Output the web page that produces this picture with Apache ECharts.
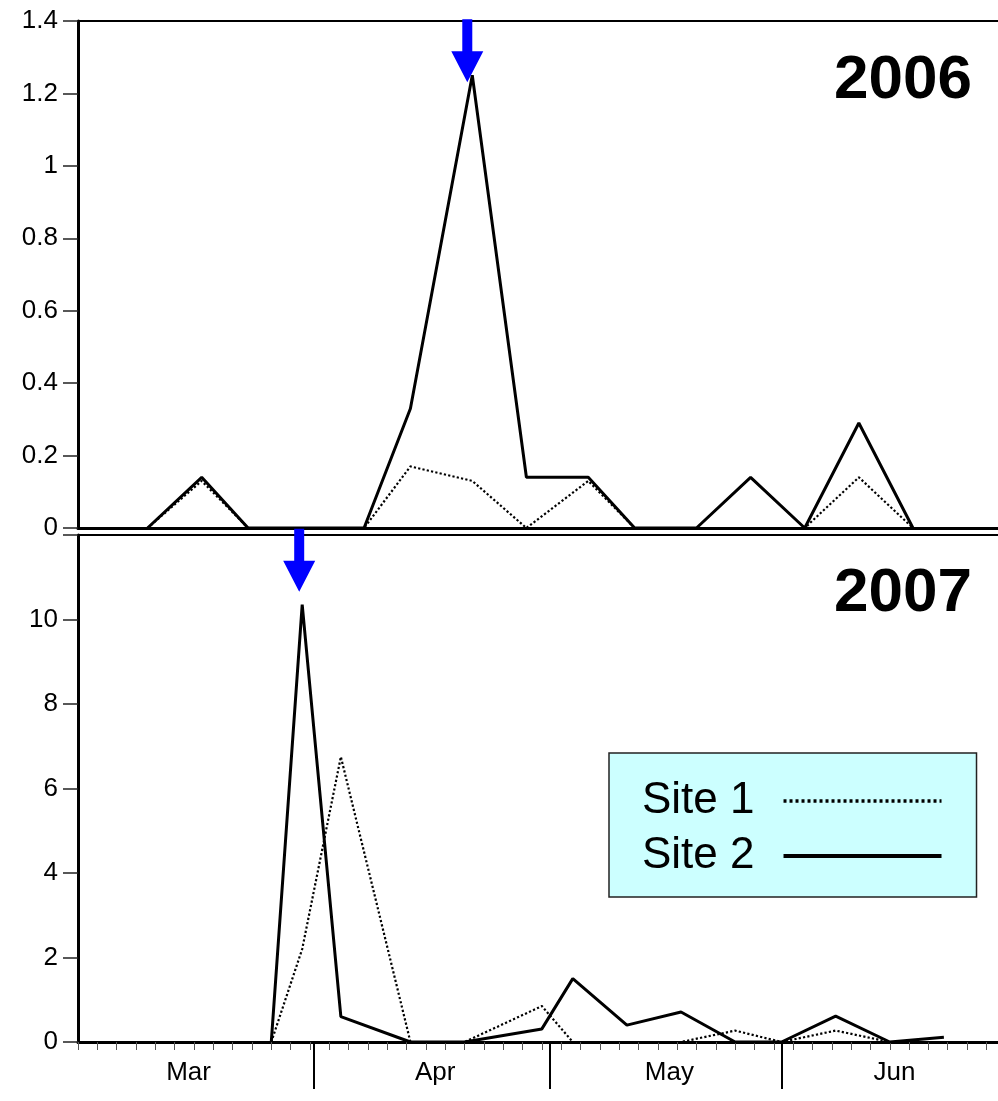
<!DOCTYPE html>
<html>
<head>
<meta charset="utf-8">
<script src="https://cdn.jsdelivr.net/npm/echarts@6/dist/echarts.min.js"></script>
<style>
  html, body { margin: 0; padding: 0; background: #ffffff; }
  #chart { width: 998px; height: 1101px; }
</style>
</head>
<body>
<div id="chart"></div>
<script>
// Sampling days, counted from the start of March
const days2006 = [9, 16, 22, 37, 43, 51, 58, 66, 72, 80, 87, 94, 101, 108];
const site1_2006 = [0, 0.13, 0, 0, 0.17, 0.13, 0, 0.13, 0, 0, 0, 0, 0.14, 0];
const site2_2006 = [0, 0.14, 0, 0, 0.33, 1.25, 0.14, 0.14, 0, 0, 0.14, 0, 0.29, 0];

const days2007 = [25, 29, 34, 43, 50, 60, 64, 71, 78, 85, 91, 98, 105, 112];
const site1_2007 = [0, 2.2, 6.75, 0, 0, 0.85, 0, 0, 0, 0.27, 0, 0.27, 0, 0];
const site2_2007 = [0, 10.35, 0.6, 0, 0, 0.31, 1.5, 0.4, 0.71, 0, 0, 0.61, 0, 0.11];

// Axis ticks
const yTicks2006 = [0, 0.2, 0.4, 0.6, 0.8, 1, 1.2, 1.4];
const yTicks2007 = [0, 2, 4, 6, 8, 10, 12];
const monthNames = ['Mar', 'Apr', 'May', 'Jun'];
const monthLabelDays = [14.3, 46.2, 76.5, 105.6];
const monthBoundaryDays = [30.5, 61, 91];
const dayTickStep = 2.5;
const dayMax = 119;

const FONT = "'Liberation Sans', Arial, Helvetica, sans-serif";
const ARROW = 'path://M11,0L21,0L21,32L32,32L16,63L0,32L11,32Z';
const CLEAR = 'rgba(0,0,0,0)';

const pairs = (xs, ys) => xs.map((x, i) => [x, ys[i]]);
const peakOf = (xs, ys) => {
  const i = ys.indexOf(Math.max(...ys));
  return [xs[i], ys[i]];
};
const arrowMark = (coord, offset) => ({
  symbol: ARROW,
  symbolSize: [32, 63],
  symbolKeepAspect: false,
  label: { show: false },
  itemStyle: { color: '#0000ff' },
  silent: true,
  data: [{ coord: coord, symbolOffset: offset }]
});

const chart = echarts.init(document.getElementById('chart'), null, { renderer: 'canvas' });

const yAxisBase = (grid, ticks, hideLast) => ({
  type: 'value',
  gridIndex: grid,
  min: ticks[0],
  max: ticks[ticks.length - 1],
  interval: ticks[1] - ticks[0],
  axisLine: { show: true, lineStyle: { color: '#000', width: 3 } },
  axisTick: { show: true, inside: false, length: 15, lineStyle: { color: '#222', width: 1.5 } },
  splitLine: { show: false },
  axisLabel: {
    margin: 20,
    fontFamily: FONT,
    fontSize: 26,
    color: '#000',
    formatter: v => (hideLast && v === ticks[ticks.length - 1]) ? '' : String(+v.toFixed(1))
  }
});

const plainX = (grid, pos, width) => ({
  type: 'value',
  gridIndex: grid,
  position: pos,
  min: 0,
  max: dayMax,
  axisLine: { show: true, onZero: false, lineStyle: { color: '#000', width: width } },
  axisTick: { show: false },
  axisLabel: { show: false },
  splitLine: { show: false }
});

const lineSeries = (name, xIdx, yIdx, xs, ys, dotted) => ({
  name: name,
  type: 'line',
  xAxisIndex: xIdx,
  yAxisIndex: yIdx,
  data: pairs(xs, ys),
  symbol: 'none',
  itemStyle: { color: '#000' },
  lineStyle: dotted ? { color: '#000', width: 2.2, type: [2.2, 2.2] } : { color: '#000', width: 3 },
  z: dotted ? 3 : 4
});

const option = {
  backgroundColor: '#ffffff',
  animation: false,
  title: [
    { text: '2006', right: 26, top: 50, padding: 0,
      textStyle: { fontFamily: FONT, fontSize: 62, fontWeight: 'bold', color: '#000' } },
    { text: '2007', right: 26, top: 563, padding: 0,
      textStyle: { fontFamily: FONT, fontSize: 62, fontWeight: 'bold', color: '#000' } }
  ],
  legend: {
    orient: 'vertical',
    left: 609,
    top: 753,
    align: 'right',
    padding: [26, 33, 19, 33],
    itemWidth: 158,
    itemHeight: 44,
    itemGap: 11,
    backgroundColor: '#ccffff',
    borderColor: '#222',
    borderWidth: 1.5,
    borderRadius: 0,
    itemStyle: { color: CLEAR, borderColor: CLEAR, borderWidth: 0 },
    textStyle: { fontFamily: FONT, fontSize: 44, color: '#000', padding: [0, 24, 0, 0] },
    data: [
      { name: 'Site 1', itemStyle: { color: CLEAR, borderColor: CLEAR },
        lineStyle: { type: [3, 3], width: 3.5, color: '#000' } },
      { name: 'Site 2', itemStyle: { color: CLEAR, borderColor: CLEAR },
        lineStyle: { width: 4, color: '#000' } }
    ]
  },
  grid: [
    { left: 78, right: 0, top: 21, height: 507 },
    { left: 78, right: 0, top: 535, height: 507 }
  ],
  xAxis: [
    plainX(0, 'bottom', 3),
    plainX(0, 'top', 2),
    {
      type: 'value',
      gridIndex: 1,
      position: 'bottom',
      min: 0,
      max: dayMax,
      interval: dayTickStep,
      axisLine: { show: true, onZero: false, lineStyle: { color: '#000', width: 3 } },
      axisTick: { show: true, inside: false, length: 8, lineStyle: { color: '#555', width: 1 } },
      axisLabel: { show: false },
      splitLine: { show: false }
    },
    {
      type: 'value',
      gridIndex: 1,
      position: 'bottom',
      min: 0,
      max: dayMax,
      axisLine: { show: false, onZero: false },
      axisTick: {
        show: true, inside: false, length: 47,
        customValues: monthBoundaryDays,
        lineStyle: { color: '#000', width: 2 }
      },
      axisLabel: {
        show: true,
        customValues: monthLabelDays,
        margin: 18,
        fontFamily: FONT,
        fontSize: 26,
        color: '#000',
        formatter: v => monthNames[monthLabelDays.indexOf(v)] || ''
      },
      splitLine: { show: false }
    },
    plainX(1, 'top', 2)
  ],
  yAxis: [
    yAxisBase(0, yTicks2006, false),
    yAxisBase(1, yTicks2007, true)
  ],
  series: [
    lineSeries('Site 1', 0, 0, days2006, site1_2006, true),
    Object.assign(lineSeries('Site 2', 0, 0, days2006, site2_2006, false), {
      markPoint: arrowMark(peakOf(days2006, site2_2006), [-5, -24.5])
    }),
    lineSeries('Site 1', 2, 1, days2007, site1_2007, true),
    Object.assign(lineSeries('Site 2', 2, 1, days2007, site2_2007, false), {
      markPoint: arrowMark(peakOf(days2007, site2_2007), [-3, -44.5])
    })
  ]
};

chart.setOption(option);
</script>
</body>
</html>
